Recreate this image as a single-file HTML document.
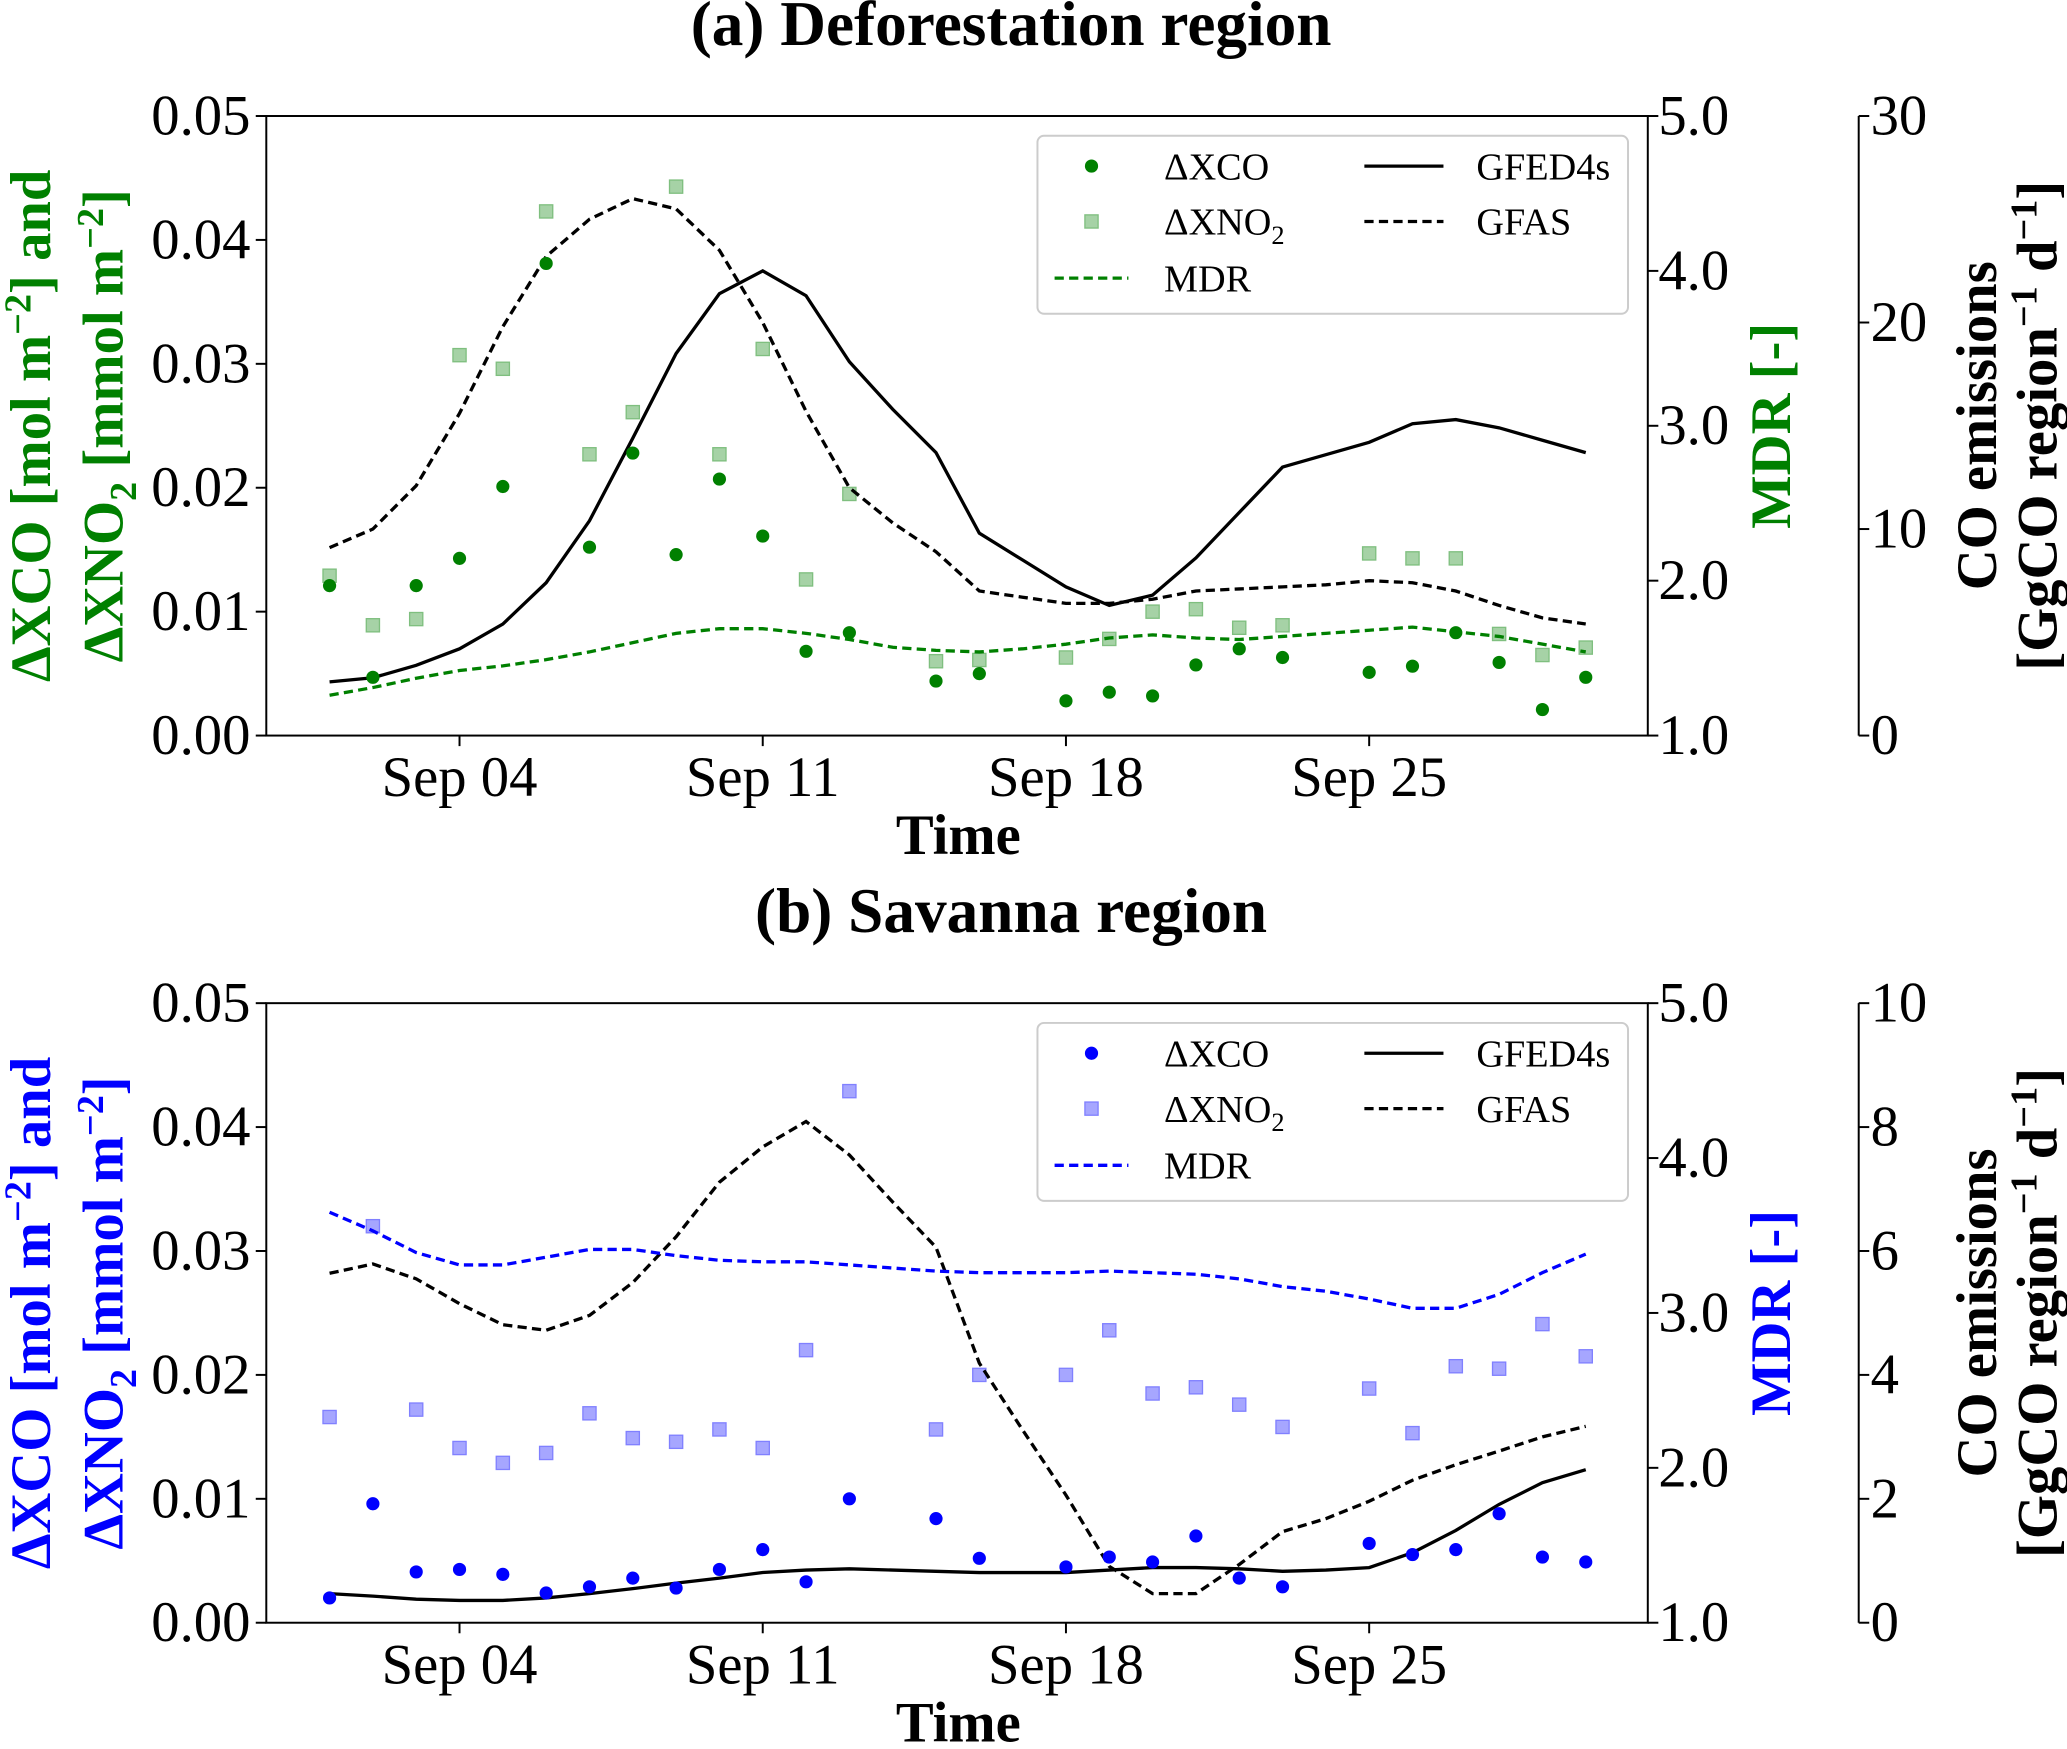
<!DOCTYPE html>
<html><head><meta charset="utf-8"><style>
html,body{margin:0;padding:0;background:#fff;}
svg text{font-family:"Liberation Serif","DejaVu Serif",serif;}
</style></head><body>
<svg id="chart" width="2067" height="1744" viewBox="0 0 1568 1323" xmlns="http://www.w3.org/2000/svg"></svg>
<script>
const daysA=[1,2,3,4,5,6,7,8,9,10,11,12,13,15,16,18,19,20,21,22,23,25,26,27,28,29,30];
const lineDays=[1,2,3,4,5,6,7,8,9,10,11,12,13,14,15,16,17,18,19,20,21,22,23,24,25,26,27,28,29,30];
const xcoA=[0.0121,0.0047,0.0121,0.0143,0.0201,0.0381,0.0152,0.0228,0.0146,0.0207,0.0161,0.0068,0.0083,0.0044,0.005,0.0028,0.0035,0.0032,0.0057,0.007,0.0063,0.0051,0.0056,0.0083,0.0059,0.0021,0.0047];
const no2A=[0.0129,0.0089,0.0094,0.0307,0.0296,0.0423,0.0227,0.0261,0.0443,0.0227,0.0312,0.0126,0.0195,0.006,0.0061,0.0063,0.0078,0.01,0.0102,0.0087,0.0089,0.0147,0.0143,0.0143,0.0082,0.0065,0.0071];
const mdrA=[1.26,1.31,1.37,1.42,1.45,1.49,1.54,1.6,1.66,1.69,1.69,1.66,1.62,1.57,1.55,1.54,1.56,1.59,1.63,1.65,1.63,1.62,1.64,1.66,1.68,1.70,1.67,1.64,1.59,1.54];
const gfedA=[2.6,2.8,3.4,4.2,5.4,7.4,10.4,14.4,18.5,21.4,22.5,21.3,18.1,15.8,13.7,9.8,8.5,7.2,6.3,6.8,8.6,10.8,13.0,13.6,14.2,15.1,15.3,14.9,14.3,13.7];
const gfasA=[9.1,10.0,12.1,15.6,19.8,23.2,25.0,26.0,25.5,23.5,20.0,15.7,12.0,10.3,8.9,7.0,6.7,6.4,6.4,6.6,7.0,7.1,7.2,7.3,7.5,7.4,7.0,6.3,5.7,5.4];
const xcoB=[0.002,0.0096,0.0041,0.0043,0.0039,0.0024,0.0029,0.0036,0.0028,0.0043,0.0059,0.0033,0.01,0.0084,0.0052,0.0045,0.0053,0.0049,0.007,0.0036,0.0029,0.0064,0.0055,0.0059,0.0088,0.0053,0.0049];
const no2B=[0.0166,0.032,0.0172,0.0141,0.0129,0.0137,0.0169,0.0149,0.0146,0.0156,0.0141,0.022,0.0429,0.0156,0.02,0.02,0.0236,0.0185,0.019,0.0176,0.0158,0.0189,0.0153,0.0207,0.0205,0.0241,0.0215];
const mdrB=[3.65,3.53,3.39,3.31,3.31,3.36,3.41,3.41,3.37,3.34,3.33,3.33,3.31,3.29,3.27,3.26,3.26,3.26,3.27,3.26,3.25,3.22,3.17,3.14,3.09,3.03,3.03,3.12,3.26,3.38];
const gfedB=[0.47,0.43,0.38,0.36,0.36,0.4,0.47,0.55,0.64,0.72,0.81,0.85,0.87,0.85,0.83,0.81,0.81,0.81,0.85,0.89,0.89,0.87,0.83,0.85,0.89,1.13,1.49,1.91,2.26,2.47];
const gfasB=[5.64,5.79,5.55,5.15,4.81,4.72,4.96,5.49,6.23,7.11,7.68,8.09,7.55,6.79,6.06,4.19,3.11,2.06,0.91,0.47,0.47,0.94,1.47,1.68,1.96,2.3,2.55,2.77,3.0,3.17];
const xTickDays=[4,11,18,25];
const xTickLabels=["Sep 04","Sep 11","Sep 18","Sep 25"];
const leftTicks=[0,0.01,0.02,0.03,0.04,0.05];
const mdrTicks=[1,2,3,4,5];
const emisTicksA=[0,10,20,30];
const emisTicksB=[0,2,4,6,8,10];

const svg=document.getElementById('chart');
const NS='http://www.w3.org/2000/svg';
function mk(tag,attrs,parent,text){const e=document.createElementNS(NS,tag);for(const k in attrs)e.setAttribute(k,attrs[k]);if(text!==undefined)e.innerHTML=text;(parent||svg).appendChild(e);return e;}
const X0=202,X1=1250,AX2=1410;
function xs(d){return 250+(d-1)*32.86;}
const TF=43, AF=43;

function panel(cfg){
  const g=mk('g',{});
  
  
  const T=cfg.top,B=cfg.top+470;
  const yL=v=>B-v/0.05*470;
  const yM=v=>B-(v-1)/4*470;
  const yE=v=>B-v/cfg.emax*470;
  const t=mk('text',{x:767,y:T-54,'font-size':48,'font-weight':'bold','text-anchor':'middle'},g,cfg.title);
  
  function line(vals,fn,color,dash,name){
    const p=mk('polyline',{points:lineDays.map((d,i)=>xs(d)+','+fn(vals[i])).join(' '),fill:'none',stroke:color,'stroke-width':2.5,'stroke-dasharray':dash||'none'},g);
    
  }
  const sq=mk('g',{},g);
  cfg.no2.forEach((v,i)=>{const r=mk('rect',{x:xs(daysA[i])-5,y:yL(v)-5,width:10,height:10,fill:cfg.light,stroke:cfg.lightEdge,'stroke-width':1},sq);});
  line(cfg.gfed,yE,'#000','',cfg.id+'-gfed4s-line');
  line(cfg.gfas,yE,'#000','7,4',cfg.id+'-gfas-line');
  line(cfg.mdr,yM,cfg.color,'7,4',cfg.id+'-mdr-line');
  const dt=mk('g',{},g);
  cfg.xco.forEach((v,i)=>{const c=mk('circle',{cx:xs(daysA[i]),cy:yL(v),r:5,fill:cfg.color},dt);});
  const fr=mk('rect',{x:X0,y:T,width:X1-X0,height:470,fill:'none',stroke:'#000','stroke-width':1.5},g);
  
  mk('line',{x1:AX2,y1:T,x2:AX2,y2:B,stroke:'#000','stroke-width':1.5},g);
  leftTicks.forEach(v=>{mk('line',{x1:X0-8,x2:X0,y1:yL(v),y2:yL(v),stroke:'#000','stroke-width':1.5},g);
    const tt=mk('text',{x:X0-12,y:yL(v)+14,'font-size':TF,'text-anchor':'end'},g,v.toFixed(2));});
  mdrTicks.forEach(v=>{mk('line',{x1:X1,x2:X1+8,y1:yM(v),y2:yM(v),stroke:'#000','stroke-width':1.5},g);
    const tt=mk('text',{x:X1+8,y:yM(v)+14,'font-size':TF},g,v.toFixed(1));});
  cfg.eticks.forEach(v=>{mk('line',{x1:AX2,x2:AX2+8,y1:yE(v),y2:yE(v),stroke:'#000','stroke-width':1.5},g);
    const tt=mk('text',{x:AX2+9,y:yE(v)+14,'font-size':TF},g,String(v));});
  xTickDays.forEach((d,i)=>{mk('line',{x1:xs(d),x2:xs(d),y1:B,y2:B+8,stroke:'#000','stroke-width':1.5},g);
    const tt=mk('text',{x:xs(d),y:B+46,'font-size':TF,'text-anchor':'middle'},g,xTickLabels[i]);});
  const xl=mk('text',{x:727,y:B+90,'font-size':AF,'font-weight':'bold','text-anchor':'middle'},g,'Time');
  
  const cy=T+235;
  const yl=mk('text',{transform:`translate(38,${cy}) rotate(-90)`,'font-size':AF,'font-weight':'bold','text-anchor':'middle',fill:cfg.color},g,'ΔXCO [mol m<tspan dy="-15" font-size="29">−2</tspan><tspan dy="15">] and</tspan>');
  
  mk('text',{transform:`translate(93,${cy}) rotate(-90)`,'font-size':AF,'font-weight':'bold','text-anchor':'middle',fill:cfg.color},g,'ΔXNO<tspan dy="10" font-size="29">2</tspan><tspan dy="-10"> [mmol m</tspan><tspan dy="-15" font-size="29">−2</tspan><tspan dy="15">]</tspan>');
  const ml=mk('text',{transform:`translate(1358,${cy}) rotate(-90)`,'font-size':AF,'font-weight':'bold','text-anchor':'middle',fill:cfg.color},g,'MDR [-]');
  
  const el=mk('text',{transform:`translate(1514,${cy}) rotate(-90)`,'font-size':AF,'font-weight':'bold','text-anchor':'middle'},g,'CO emissions');
  
  mk('text',{transform:`translate(1560,${cy}) rotate(-90)`,'font-size':AF,'font-weight':'bold','text-anchor':'middle'},g,'[GgCO region<tspan dy="-15" font-size="29">−1</tspan><tspan dy="15"> d</tspan><tspan dy="-15" font-size="29">−1</tspan><tspan dy="15">]</tspan>');
  const L=mk('g',{},g);
  const ly=T+15;
  mk('rect',{x:787,y:ly,width:448,height:135,rx:5,fill:'#fff','fill-opacity':0.85,stroke:'#ccc','stroke-width':1.5},L);
  mk('circle',{cx:828,cy:ly+23,r:5,fill:cfg.color},L);
  mk('text',{x:883,y:ly+33,'font-size':29},L,'ΔXCO');
  mk('rect',{x:823,y:ly+60,width:10,height:10,fill:cfg.light,stroke:cfg.lightEdge},L);
  mk('text',{x:883,y:ly+75,'font-size':29},L,'ΔXNO<tspan dy="7" font-size="20">2</tspan>');
  mk('line',{x1:800,x2:856,y1:ly+108,y2:ly+108,stroke:cfg.color,'stroke-width':2.5,'stroke-dasharray':'7,4'},L);
  mk('text',{x:883,y:ly+118,'font-size':29},L,'MDR');
  mk('line',{x1:1035,x2:1095,y1:ly+23,y2:ly+23,stroke:'#000','stroke-width':2.5},L);
  mk('text',{x:1120,y:ly+33,'font-size':29},L,'GFED4s');
  mk('line',{x1:1035,x2:1095,y1:ly+65,y2:ly+65,stroke:'#000','stroke-width':2.5,'stroke-dasharray':'7,4'},L);
  mk('text',{x:1120,y:ly+75,'font-size':29},L,'GFAS');
}
panel({id:'deforestation',title:'(a) Deforestation region',top:88,emax:30,eticks:emisTicksA,color:'#008000',light:'#a6d2a6',lightEdge:'#7fbf7f',xco:xcoA,no2:no2A,mdr:mdrA,gfed:gfedA,gfas:gfasA});
panel({id:'savanna',title:'(b) Savanna region',top:761,emax:10,eticks:emisTicksB,color:'#0000ff',light:'#a6a6ff',lightEdge:'#8080ff',xco:xcoB,no2:no2B,mdr:mdrB,gfed:gfedB,gfas:gfasB});
</script>
</body></html>
